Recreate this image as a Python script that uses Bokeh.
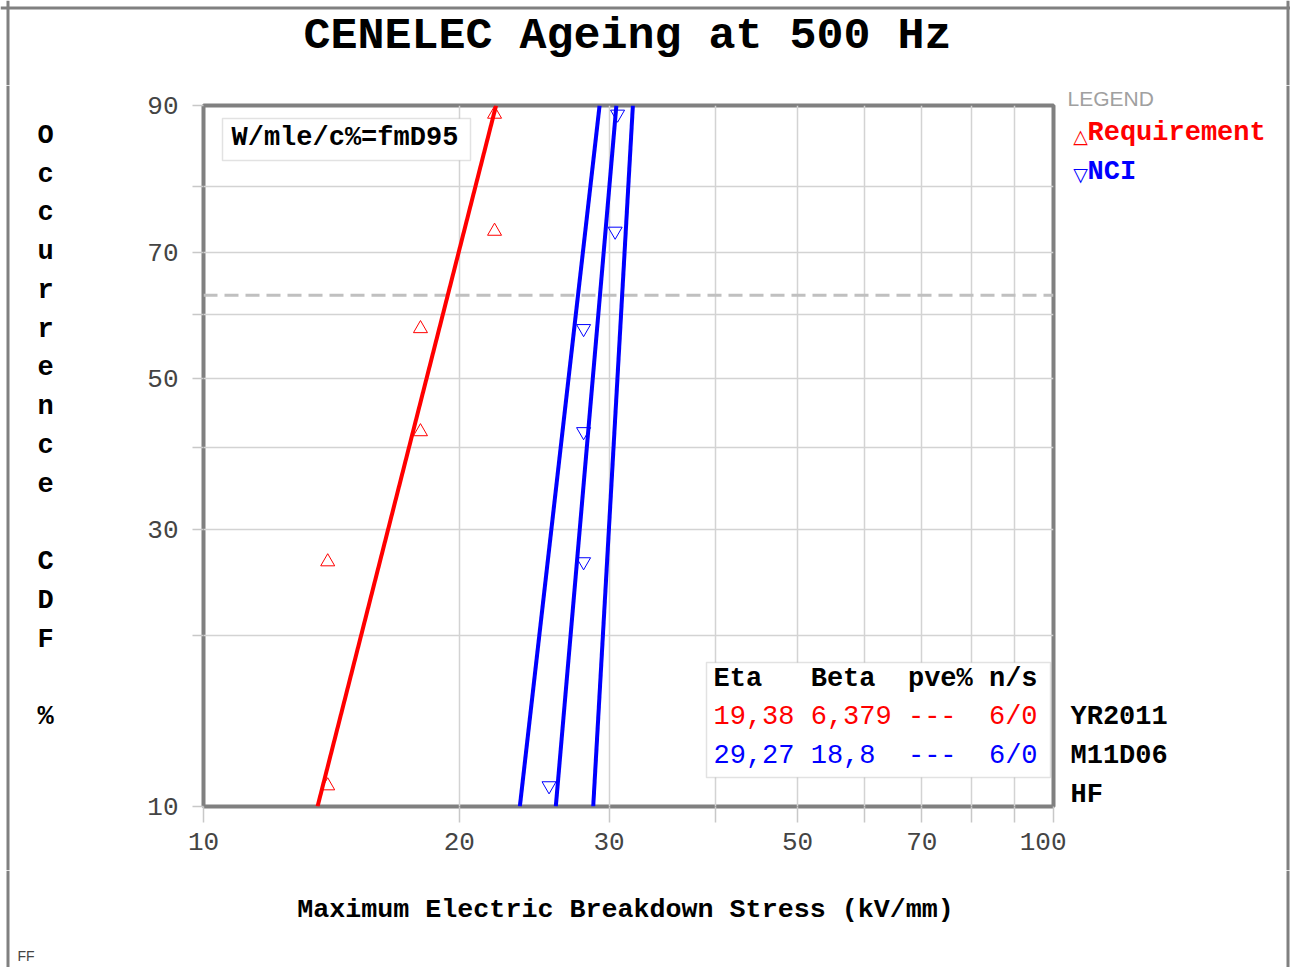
import math
from bokeh.plotting import figure
from bokeh.layouts import column, row
from bokeh.models import Range1d, FixedTicker, Label, BoxAnnotation, Span
from bokeh.embed import file_html
from bokeh.resources import INLINE

# ---------------- data ----------------
req_stress = [14.0, 14.0, 18.0, 18.0, 22.0, 22.0]
req_rank = [10.9, 26.6, 42.2, 57.8, 73.4, 89.1]
nci_stress = [25.5, 28.0, 28.0, 28.0, 30.5, 30.7]
nci_rank = [10.9, 26.6, 42.2, 57.8, 73.4, 89.1]

line_probs = [10, 90]
req_fit = [13.62, 22.09]
nci_fit = [25.97, 30.60]
nci_lower = [23.56, 29.24]
nci_upper = [28.74, 32.00]

x_ticks = [10, 20, 30, 40, 50, 60, 70, 80, 90, 100]
x_labels = ["10", "20", "30", "", "50", "", "70", "", "", "100"]
prob_ticks = [10, 20, 30, 40, 50, 60, 70, 80, 90]
prob_labels = ["10", "", "30", "", "50", "", "70", "", "90"]
eta_prob = 63.2

title_text = "CENELEC Ageing at 500 Hz"
x_title = "Maximum Electric Breakdown Stress (kV/mm)"
y_title_letters = ["O", "c", "c", "u", "r", "r", "e", "n", "c", "e", " ",
                   "C", "D", "F", " ", "%"]
method_text = "W/mle/c%=fmD95"
table_header = "Eta   Beta  pve% n/s"
table_rows = ["19,38 6,379 ---  6/0", "29,27 18,8  ---  6/0"]
side_notes = ["YR2011", "M11D06", "HF"]
series_names = ["Requirement", "NCI"]


def weib(F):
    return math.log(-math.log(1.0 - F / 100.0))


def keep_spaces(s):
    return s.replace(" ", "\u00a0")


MONO = "Liberation Mono"
BORDER = "#808080"
FL, FB = 203, 806  # page coords of frame left / bottom

W, TOP_H, MID_H, BOT_H = 1290, 85, 785, 97
LEFT_W = 100
MAIN_W = 966
RIGHT_X0 = LEFT_W + MAIN_W
RIGHT_W = W - RIGHT_X0

# ---------------- main plot ----------------
p = figure(width=MAIN_W, height=MID_H, x_axis_type="log", title=None,
           x_range=Range1d(10, 100), y_range=Range1d(weib(10), weib(90)),
           output_backend="svg", toolbar_location=None,
           min_border_left=FL - LEFT_W, min_border_right=RIGHT_X0 - 1053,
           min_border_top=105 - TOP_H, min_border_bottom=TOP_H + MID_H - FB)
p.frame_align = False
p.background_fill_color = "white"
p.border_fill_color = "white"
p.outline_line_color = BORDER
p.outline_line_width = 4

p.xaxis.ticker = FixedTicker(ticks=x_ticks)
p.xaxis.major_label_overrides = dict(zip(x_ticks, x_labels))
p.xaxis.major_tick_out = 16
p.xaxis.major_label_standoff = 10
y_tick_vals = [weib(v) for v in prob_ticks]
p.yaxis.ticker = FixedTicker(ticks=y_tick_vals)
p.yaxis.major_label_overrides = dict(zip(y_tick_vals, prob_labels))
p.yaxis.major_tick_out = 11
p.yaxis.major_label_standoff = 14
for ax in (p.xaxis, p.yaxis):
    ax.axis_line_color = None
    ax.major_tick_in = 0
    ax.minor_tick_line_color = None
    ax.major_tick_line_color = "#c8c8c8"
    ax.major_tick_line_width = 1.5
    ax.major_label_text_font = MONO
    ax.major_label_text_font_size = "26px"
    ax.major_label_text_color = "#444444"

p.xgrid.grid_line_color = "#d3d3d3"
p.ygrid.grid_line_color = "#d3d3d3"
p.xgrid.grid_line_width = 1.5
p.ygrid.grid_line_width = 1.5

p.add_layout(Span(location=weib(eta_prob), dimension="width", line_color="#c0c0c0",
                  line_width=3, line_dash="14 7", level="underlay"))

yl = [weib(F) for F in line_probs]
p.line(req_fit, yl, line_color="red", line_width=4)
p.line(nci_lower, yl, line_color="blue", line_width=4)
p.line(nci_fit, yl, line_color="blue", line_width=4)
p.line(nci_upper, yl, line_color="blue", line_width=4)

p.scatter(req_stress, [weib(F) for F in req_rank], marker="triangle", size=14,
          fill_color=None, line_color="red", line_width=1)
p.scatter(nci_stress, [weib(F) for F in nci_rank], marker="inverted_triangle", size=14,
          fill_color=None, line_color="blue", line_width=1)


def box(l, t, r, b):
    p.add_layout(BoxAnnotation(left=l - FL, right=r - FL, top=FB - t, bottom=FB - b,
                               left_units="screen", right_units="screen",
                               top_units="screen", bottom_units="screen",
                               fill_color="white", fill_alpha=1.0,
                               line_color="#a0a0a0", line_width=1.5))


def plab(text, px, py, size="27px", color="black", bold=True, align="left"):
    p.add_layout(Label(x=px - FL, y=FB - py, x_units="screen", y_units="screen",
                       text=keep_spaces(text), text_font=MONO, text_font_size=size,
                       text_color=color, text_font_style="bold" if bold else "normal",
                       text_align=align, text_baseline="middle"))


box(222, 118, 470, 160)
box(706, 662, 1050, 777)
plab(method_text, 231, 137)
plab(table_header, 713, 678)
plab(table_rows[0], 713, 716, color="red", bold=False)
plab(table_rows[1], 713, 755, color="blue", bold=False)


# ---------------- text strips around the plot ----------------
def strip(w, h):
    f = figure(width=w, height=h, x_range=Range1d(0, w), y_range=Range1d(h, 0),
               x_axis_type=None, y_axis_type=None, title=None,
               output_backend="svg", toolbar_location=None, min_border=0)
    f.frame_align = False
    f.outline_line_color = None
    f.background_fill_color = "white"
    f.border_fill_color = "white"
    return f


def slab(f, x0, y0, text, px, py, size="27px", color="black", bold=True,
         align="left", font=MONO, **kw):
    f.add_layout(Label(x=px - x0, y=py - y0, text=keep_spaces(text), text_font=font,
                       text_font_size=size, text_color=color,
                       text_font_style="bold" if bold else "normal",
                       text_align=align, text_baseline="middle", **kw))


def vborder(f, x0, px):
    f.add_layout(Span(location=px - x0, dimension="height", line_color=BORDER,
                      line_width=3))


top = strip(W, TOP_H)
slab(top, 0, 0, title_text, 627, 36, size="45px", align="center")
top.add_layout(Span(location=7.5, dimension="width", line_color=BORDER, line_width=3))
vborder(top, 0, 7.5)
vborder(top, 0, 1287.5)

left = strip(LEFT_W, MID_H)
slab(left, 0, TOP_H, "\n".join(y_title_letters), 45, 426, align="center",
     text_line_height=1.292)
vborder(left, 0, 7.5)

right = strip(RIGHT_W, MID_H)
slab(right, RIGHT_X0, TOP_H, "LEGEND", 1067, 98, size="21px", color="#a0a0a0",
     bold=False, font="Liberation Sans")
slab(right, RIGHT_X0, TOP_H, "\u25b3", 1080, 135, size="19px", color="red", bold=False,
     align="center", font="DejaVu Sans")
slab(right, RIGHT_X0, TOP_H, series_names[0], 1087, 132, color="red")
slab(right, RIGHT_X0, TOP_H, "\u25bd", 1080, 173, size="19px", color="blue", bold=False,
     align="center", font="DejaVu Sans")
slab(right, RIGHT_X0, TOP_H, series_names[1], 1087, 171, color="blue")
for i, note in enumerate(side_notes):
    slab(right, RIGHT_X0, TOP_H, note, 1070, 716 + 39 * i)
vborder(right, RIGHT_X0, 1287.5)

bottom = strip(W, BOT_H)
y0b = TOP_H + MID_H
slab(bottom, 0, y0b, x_title, 625, 909, size="26.7px", align="center")
slab(bottom, 0, y0b, "FF", 17, 955, size="14px", color="#444444", bold=False,
     font="Liberation Sans")
vborder(bottom, 0, 7.5)
vborder(bottom, 0, 1287.5)

layout = column(top, row(left, p, right), bottom)
open("out.html", "w").write(file_html(layout, INLINE))
